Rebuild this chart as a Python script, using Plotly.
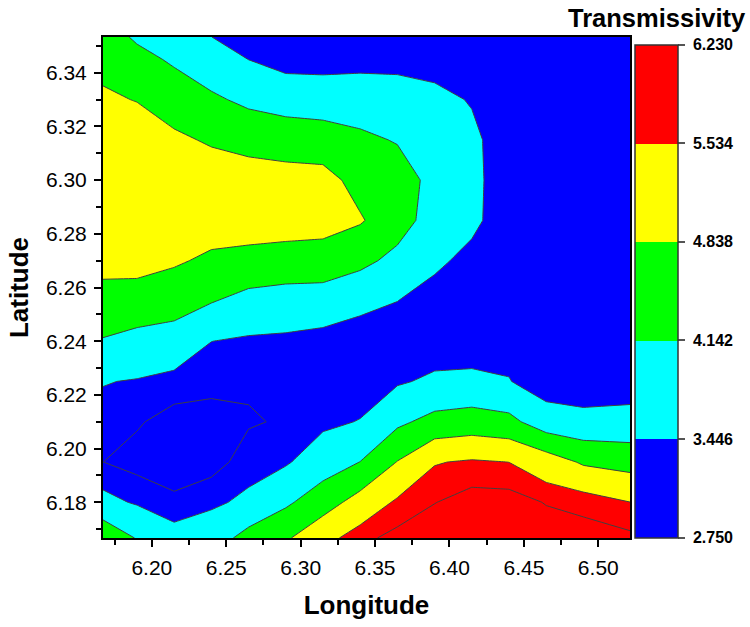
import plotly.graph_objects as go

# ---- data ----
longitude = [6.1672, 6.19, 6.215, 6.24, 6.265, 6.29, 6.315, 6.34, 6.365,
             6.39, 6.415, 6.44, 6.465, 6.49, 6.5213]
latitude = [6.1667, 6.18, 6.195, 6.21, 6.225, 6.24, 6.255, 6.27, 6.285,
            6.30, 6.315, 6.33, 6.345, 6.3533]

# transmissivity columns (one list per longitude, bottom -> top latitude)
col_00 = [4.70, 3.60, 3.10, 3.28, 3.47, 4.10, 4.58, 5.06, 5.25, 5.30, 5.15, 4.95, 4.62, 4.45]
col_01 = [4.10, 3.39, 2.96, 3.14, 3.41, 3.95, 4.52, 5.09, 5.28, 5.35, 5.25, 4.81, 4.34, 4.05]
col_02 = [3.68, 3.15, 2.96, 2.95, 3.29, 3.85, 4.43, 4.92, 5.15, 5.20, 4.96, 4.51, 4.05, 3.80]
col_03 = [3.77, 3.36, 2.94, 2.96, 3.20, 3.45, 4.18, 4.72, 5.15, 5.20, 4.76, 4.25, 3.73, 3.45]
col_04 = [4.40, 3.55, 3.27, 3.06, 3.15, 3.37, 3.92, 4.64, 5.15, 5.15, 4.61, 4.00, 3.44, 3.20]
col_05 = [4.75, 4.03, 3.38, 3.14, 3.17, 3.35, 3.81, 4.60, 5.10, 5.10, 4.52, 3.86, 3.22, 3.15]
col_06 = [5.34, 4.53, 3.80, 3.33, 3.20, 3.28, 3.77, 4.59, 5.05, 5.08, 4.45, 3.82, 3.21, 3.15]
col_07 = [5.78, 5.11, 4.15, 3.47, 3.17, 3.15, 3.62, 4.31, 4.90, 4.60, 4.27, 3.80, 3.26, 3.20]
col_08 = [6.00, 5.62, 4.86, 4.01, 3.38, 3.20, 3.45, 3.96, 4.43, 4.45, 4.10, 3.70, 3.29, 3.20]
col_09 = [6.15, 5.87, 5.50, 4.35, 3.55, 3.15, 3.25, 3.55, 3.85, 3.95, 3.90, 3.55, 3.30, 3.20]
col_10 = [6.22, 6.05, 5.60, 4.45, 3.60, 3.12, 3.15, 3.30, 3.57, 3.58, 3.53, 3.42, 3.30, 3.25]
col_11 = [6.20, 6.05, 5.53, 4.33, 3.47, 3.26, 3.15, 3.20, 3.15, 3.17, 3.24, 3.25, 3.22, 3.20]
col_12 = [6.10, 5.86, 5.20, 3.75, 3.14, 3.20, 3.20, 3.22, 3.22, 3.22, 3.22, 3.22, 3.20, 3.20]
col_13 = [6.00, 5.80, 4.75, 3.62, 3.13, 3.20, 3.20, 3.22, 3.22, 3.22, 3.22, 3.22, 3.20, 3.20]
col_14 = [5.97, 5.54, 4.59, 3.66, 3.16, 3.20, 3.20, 3.22, 3.22, 3.22, 3.22, 3.22, 3.20, 3.20]

columns = [col_00, col_01, col_02, col_03, col_04, col_05, col_06, col_07,
           col_08, col_09, col_10, col_11, col_12, col_13, col_14]

levels = [2.750, 3.446, 4.142, 4.838, 5.534, 6.230]
level_labels = ["2.750", "3.446", "4.142", "4.838", "5.534", "6.230"]
extra_line_levels = [3.098, 5.882]
band_colors = ["#0000ff", "#00ffff", "#00ff00", "#ffff00", "#ff0000"]

# z as rows (latitude) x columns (longitude)
z = [[columns[c][r] for c in range(len(longitude))] for r in range(len(latitude))]

step = levels[1] - levels[0]

# colorscale for plotly contour fills (bands evaluated at level + step/2,
# domain spans start - step/2 .. end + step/2)
fill_scale = [
    [0.0, band_colors[0]], [0.25, band_colors[0]],
    [0.25, band_colors[1]], [5 / 12, band_colors[1]],
    [5 / 12, band_colors[2]], [7 / 12, band_colors[2]],
    [7 / 12, band_colors[3]], [0.75, band_colors[3]],
    [0.75, band_colors[4]], [1.0, band_colors[4]],
]
# colorscale for the colour bar (cmin..cmax = first..last level)
nb = len(band_colors)
bar_scale = []
for i, c in enumerate(band_colors):
    bar_scale.append([i / nb, c])
    bar_scale.append([(i + 1) / nb, c])

LINE = "#404040"
FONT = "Arial, Liberation Sans, sans-serif"

fig = go.Figure()
fig.add_trace(go.Contour(
    x=longitude, y=latitude, z=z,
    contours=dict(start=levels[0], end=levels[-1], size=step,
                  coloring="fill", showlines=True),
    colorscale=fill_scale,
    line=dict(color=LINE, width=1, smoothing=0),
    showscale=False,
    hoverinfo="skip",
))
fig.add_trace(go.Contour(
    x=longitude, y=latitude, z=z,
    contours=dict(start=extra_line_levels[0], end=extra_line_levels[1],
                  size=extra_line_levels[1] - extra_line_levels[0],
                  coloring="none", showlines=True),
    line=dict(color=LINE, width=1, smoothing=0),
    showscale=False,
    hoverinfo="skip",
))
# colour bar carrier (no visible marks)
fig.add_trace(go.Scatter(
    x=[None], y=[None], mode="markers",
    marker=dict(color=[levels[0]], cmin=levels[0], cmax=levels[-1],
                colorscale=bar_scale, showscale=True,
                colorbar=dict(
                    x=1.0087, xanchor="left", xpad=0,
                    y=0.493, yanchor="middle", ypad=0,
                    lenmode="pixels", len=493,
                    thicknessmode="pixels", thickness=43,
                    outlinewidth=1.5, outlinecolor="#333333",
                    tickmode="array", tickvals=levels,
                    ticktext=[" " + t for t in level_labels],
                    ticks="outside", ticklen=7, tickwidth=1.5, tickcolor="#555555",
                    tickfont=dict(family=FONT, size=16, color="black", weight="bold"),
                )),
    showlegend=False, hoverinfo="skip",
))

axis_common = dict(
    showgrid=False, zeroline=False, showline=True, mirror=True,
    linecolor="black", linewidth=2,
    ticks="outside", ticklen=7, tickwidth=2, tickcolor="black",
    tickfont=dict(family=FONT, size=21, color="black"),
)

fig.update_xaxes(
    range=[longitude[0], longitude[-1]], dtick=0.05, tick0=6.2, tickformat=".2f",
    minor=dict(dtick=0.025, tick0=6.2, ticks="outside", ticklen=5, tickwidth=2, tickcolor="black"),
    ticklabelstandoff=3,
    title=dict(text="<b>Longitude</b>", font=dict(family=FONT, size=26, color="black"), standoff=18),
    **axis_common,
)
fig.update_yaxes(
    range=[latitude[0], latitude[-1]], dtick=0.02, tick0=6.18, tickformat=".2f",
    minor=dict(dtick=0.01, tick0=6.18, ticks="outside", ticklen=5, tickwidth=2, tickcolor="black"),
    ticklabelstandoff=3,
    title=dict(text="<b>Latitude</b>", font=dict(family=FONT, size=26, color="black"), standoff=10),
    **axis_common,
)

fig.add_annotation(
    text="<b>Transmissivity</b>", xref="paper", yref="paper",
    x=1.224, y=1.037, xanchor="right", yanchor="middle", showarrow=False,
    font=dict(family=FONT, size=25.5, color="black"),
)

fig.update_layout(
    width=750, height=627,
    margin=dict(l=103, r=120, t=37, b=84),
    paper_bgcolor="white", plot_bgcolor="white",
    showlegend=False,
)

fig.write_html("out.html")
